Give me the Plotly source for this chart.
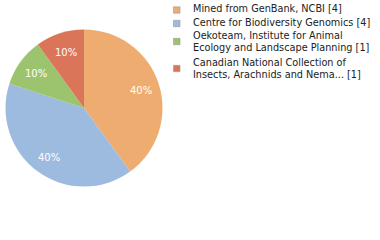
import math
import plotly.graph_objects as go

labels = ["Mined from GenBank, NCBI [4]",
          "Centre for Biodiversity Genomics [4]",
          "Oekoteam, Institute for Animal<br>Ecology and Landscape Planning [1]",
          "Canadian National Collection of<br>Insects, Arachnids and Nema... [1]"]
values = [4, 4, 1, 1]
colors = ["#EEAC70", "#9DBADF", "#9CC46E", "#DA7559"]

W, H = 380, 240
cx, cy, R = 84, 108, 78.5
fig = go.Figure()
fig.add_trace(go.Pie(
    labels=labels, values=values, sort=False, direction="clockwise", rotation=0,
    marker=dict(colors=colors, line=dict(width=0)),
    textinfo="none",
    domain=dict(x=[(cx-R)/W, (cx+R)/W], y=[1-(cy+R)/H, 1-(cy-R)/H]),
    showlegend=False, hoverinfo="none"))

shapes, anns = [], []
total = sum(values)
acc = 0
for v in values:
    mid = (acc + v/2) / total * 2*math.pi
    acc += v
    lx = cx + 0.76*R*math.sin(mid)
    ly = cy - 0.76*R*math.cos(mid) + 1
    anns.append(dict(text=f"{round(100*v/total)}%", xref="paper", yref="paper",
                     x=lx/W, y=1-ly/H, xanchor="center", yanchor="middle",
                     showarrow=False,
                     font=dict(size=10, family="DejaVu Sans", color="white")))

# legend
y = 8.5
for lab, col in zip(labels, colors):
    lines = lab.split("<br>")
    ys = [y + 12*i for i in range(len(lines))]
    sc = sum(ys)/len(ys) + (1.5 if len(lines) == 1 else 0)
    shapes.append(dict(type="rect", xref="paper", yref="paper",
                       x0=173.5/W, x1=180/W, y0=1-(sc+3.2)/H, y1=1-(sc-3.2)/H,
                       fillcolor=col, line=dict(color="#999", width=0.6)))
    for ln, yy in zip(lines, ys):
        anns.append(dict(text=ln, xref="paper", yref="paper", x=191/W, y=1-yy/H,
                         xanchor="left", yanchor="middle", showarrow=False,
                         font=dict(size=10.8, family="DejaVu Sans Condensed", color="#222")))
    y = ys[-1] + 13.5 + (1.5 if len(lines) > 1 else 0)

fig.update_layout(width=W, height=H, margin=dict(l=0, r=0, t=0, b=0),
                  paper_bgcolor="white", plot_bgcolor="white",
                  shapes=shapes, annotations=anns)
fig.write_html("out.html")
